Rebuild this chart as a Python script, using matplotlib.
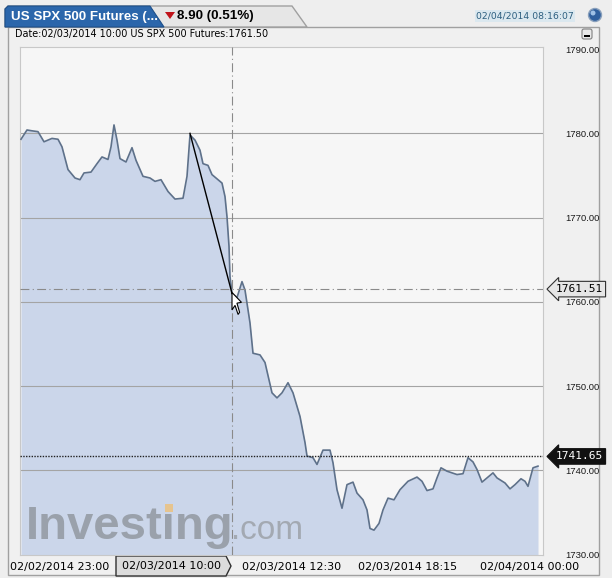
import numpy as np
import matplotlib
matplotlib.use("Agg")
import matplotlib.pyplot as plt
from matplotlib.patches import Polygon, Rectangle, Circle, FancyBboxPatch
from matplotlib.transforms import blended_transform_factory

# ---- data (bar position, price) ----
bars = [1, 7, 12, 18, 24, 32, 38, 42, 48, 55, 60, 64, 71, 77, 82, 88, 91, 94, 97, 100,
        106, 112, 116, 123, 130, 135, 141, 148, 155, 163, 167, 170, 175, 180, 183, 188,
        192, 198, 202, 205, 207, 209, 210, 212, 217, 222, 225, 230, 233, 240, 245, 252,
        257, 262, 268, 273, 280, 285, 287, 293, 297, 303, 310, 313, 317, 322, 327, 333,
        337, 343, 347, 350, 354, 359, 363, 368, 374, 380, 388, 397, 402, 407, 413, 417,
        421, 427, 437, 443, 448, 453, 457, 462, 467, 473, 477, 485, 490, 495, 501, 505,
        508, 513, 518]
prices = [1779.3, 1780.4, 1780.3, 1780.2, 1779.0, 1779.4, 1779.3, 1778.4, 1775.7, 1774.7,
          1774.5, 1775.3, 1775.4, 1776.4, 1777.2, 1776.9, 1778.4, 1781.0, 1779.2, 1777.0,
          1776.6, 1778.3, 1776.8, 1774.9, 1774.7, 1774.3, 1774.5, 1773.1, 1772.2, 1772.3,
          1774.9, 1779.8, 1779.2, 1778.0, 1776.4, 1776.2, 1775.1, 1774.5, 1774.1, 1772.5,
          1770.1, 1766.6, 1763.0, 1761.0, 1760.5, 1762.4, 1761.4, 1757.5, 1753.9, 1753.7,
          1752.8, 1749.2, 1748.6, 1749.2, 1750.4, 1749.2, 1746.4, 1743.3, 1741.7, 1741.5,
          1740.7, 1742.4, 1742.4, 1740.9, 1737.7, 1735.5, 1738.3, 1738.6, 1737.3, 1736.5,
          1735.3, 1733.1, 1732.9, 1733.7, 1735.3, 1736.7, 1736.5, 1737.7, 1738.7, 1739.2,
          1738.7, 1737.6, 1737.8, 1739.1, 1740.3, 1739.9, 1739.5, 1739.6, 1741.5, 1741.0,
          1740.1, 1738.6, 1739.1, 1739.7, 1739.1, 1738.5, 1737.8, 1738.3, 1739.0, 1738.7,
          1738.1, 1740.3, 1740.5]

y_ticks = [1730, 1740, 1750, 1760, 1770, 1780, 1790]
x_tick_pos = [40, 272, 388, 510]
x_tick_labels = ["02/02/2014 23:00", "02/03/2014 12:30", "02/03/2014 18:15", "02/04/2014 00:00"]

cross_bar = 212
cross_price = 1761.51
cross_label = "02/03/2014 10:00"
last_price = 1741.65
trend_start = (170, 1780.0)
trend_end = (212, 1761.0)

title = "US SPX 500 Futures (..."
change = "8.90 (0.51%)"
info = "Date:02/03/2014 10:00 US SPX 500 Futures:1761.50"
stamp = "02/04/2014 08:16:07"

narrow = ["Liberation Sans Narrow", "Liberation Sans", "DejaVu Sans"]

W, H = 612, 578
fig = plt.figure(figsize=(W / 100, H / 100), dpi=100)
fig.patch.set_facecolor("#eeeeee")

# background chrome in pixel coordinates
bg = fig.add_axes([0, 0, 1, 1])
bg.set_xlim(0, W)
bg.set_ylim(H, 0)
bg.axis("off")

bg.add_patch(Rectangle((8, 27), 591, 548, fc="#f0f0f0", ec="#a0a0a0", lw=1))
bg.add_patch(Polygon([(5, 27), (5, 9), (8, 6), (292, 6), (307, 27)],
                     closed=True, fc="#e6e6e6", ec="#a0a0a0", lw=1))
bg.add_patch(Polygon([(5, 27), (5, 9), (8, 6), (150, 6), (164, 27)],
                     closed=True, fc="#2b66ab", ec="#1d4f8a", lw=0.8))
bg.text(11, 17, title, color="white", fontsize=9.6, fontweight="bold", va="center",
        family=narrow)
bg.add_patch(Polygon([(165, 12), (175, 12), (170, 19)], closed=True, fc="#c0141b", ec="none"))
bg.text(177, 16, change, color="black", fontsize=9.6, fontweight="bold", va="center",
        family=narrow)

bg.text(476, 16, stamp, color="#2d5f80", fontsize=6.7, va="center",
        bbox=dict(boxstyle="square,pad=0.15", fc="#dbe8ef", ec="none"))
bg.add_patch(Circle((595, 15), 6.5, fc="#2f5f9e", ec="#8aa0bb", lw=1))
bg.add_patch(Circle((593, 13), 2.5, fc="#9fc0e6", ec="none"))

bg.text(15, 34, info, color="black", fontsize=6.9, va="center")
bg.add_patch(FancyBboxPatch((582, 29), 10, 10, boxstyle="round,pad=0,rounding_size=2",
                            fc="#e8e8e8", ec="#808080", lw=0.8))
bg.add_patch(Rectangle((584, 35), 6, 2, fc="black", ec="none"))

# crosshair time label at bottom
bg.add_patch(Polygon([(116, 556), (226, 556), (231, 566), (226, 576), (116, 576)],
                     closed=True, fc="#dcdcdc", ec="#303030", lw=1))
bg.text(171, 566, cross_label, fontsize=8, va="center", ha="center", color="black")

# main chart
ax = fig.add_axes([20 / W, (H - 555) / H, 523 / W, 508 / H])
ax.set_facecolor("#f6f6f6")
ax.set_xlim(0, 523)
ax.set_ylim(1729.95, 1790.25)

ax.fill_between(bars, prices, 1729.95, color="#cbd6ea", lw=0, zorder=1)
ax.plot(bars, prices, color="#5e718a", lw=1.2, zorder=3)

for v in y_ticks[1:-1]:
    ax.axhline(v, color="#a4a4a4", lw=0.8, zorder=2)

ax.axvline(cross_bar, color="#8a8a8a", lw=0.8, ls=(0, (8, 3, 1, 3)), zorder=4)
ax.axhline(cross_price, color="#8a8a8a", lw=0.8, ls=(0, (8, 3, 1, 3)), zorder=4)
ax.axhline(last_price, color="#222222", lw=1.0, ls=(0, (1, 1)), zorder=4)
ax.plot([trend_start[0], trend_end[0]], [trend_start[1], trend_end[1]],
        color="black", lw=1.0, zorder=5)

# cursor arrow at crosshair
cx, cy = cross_bar, cross_price - 0.4
cur = np.array([[0, 0], [0, -2.3], [1.6, -1.7], [3.2, -2.9], [4.0, -2.6], [2.6, -1.4], [5.0, -1.3]])
ax.add_patch(Polygon(np.c_[cx + cur[:, 0] * 1.9, cy + cur[:, 1] * 0.9], closed=True,
                     fc="white", ec="black", lw=0.8, zorder=6))

# watermark
ax.text(6, 1731.9, "Investing", fontsize=34, fontweight="bold", color="#9aa1ab",
        family="Liberation Sans", zorder=2)
ax.text(211, 1731.9, ".com", fontsize=24, color="#a3a9b2", family="Liberation Sans", zorder=2)
ax.add_patch(Rectangle((145, 1735.1), 7.5, 0.95, fc="#e6c48f", ec="none", zorder=2.5))

for s in ax.spines.values():
    s.set_color("#c8c8c8")
    s.set_linewidth(0.8)

ax.yaxis.tick_right()
ax.set_yticks(y_ticks)
ax.set_yticklabels([f"{v:.2f}" for v in y_ticks], fontsize=6.8, family="Liberation Sans",
                   color="#1a1a1a")
ax.tick_params(axis="y", length=0, pad=16)
ax.set_xticks(x_tick_pos)
ax.set_xticklabels(x_tick_labels, fontsize=8, color="black")
ax.tick_params(axis="x", length=0, pad=5)

# price tags on right axis
tr = blended_transform_factory(ax.transAxes, ax.transData)
ax.text(1.024, cross_price, "1761.51", transform=tr, fontsize=8, family="DejaVu Sans Mono",
        va="center", ha="left", color="black", zorder=7,
        bbox=dict(boxstyle="larrow,pad=0.25", fc="#e6e6e6", ec="#303030", lw=0.8))
ax.text(1.024, last_price, "1741.65", transform=tr, fontsize=8, family="DejaVu Sans Mono",
        va="center", ha="left", color="white", zorder=7,
        bbox=dict(boxstyle="larrow,pad=0.25", fc="#111111", ec="#111111", lw=0.8))

fig.savefig("out.png", dpi=100, facecolor=fig.get_facecolor())
